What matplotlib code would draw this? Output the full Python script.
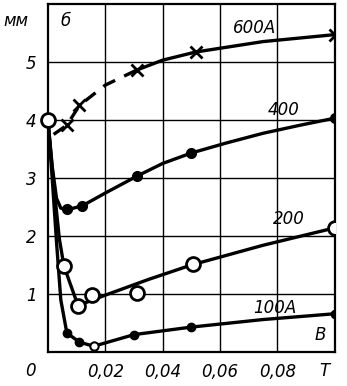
import matplotlib
matplotlib.use("Agg")
import matplotlib.pyplot as plt

plt.rcParams['font.family'] = ['Liberation Sans Narrow', 'DejaVu Sans']
plt.rcParams['font.style'] = 'italic'

# 600 A (crosses)
t600_line = [0.011, 0.02, 0.031, 0.04, 0.0515, 0.075, 0.1]
h600_line = [4.25, 4.6, 4.86, 5.03, 5.17, 5.35, 5.47]
t600 = [0.0066, 0.011, 0.031, 0.0515, 0.1]
h600 = [3.91, 4.25, 4.86, 5.17, 5.47]
# 400 A (filled dots)
t400_line = [0.0, 0.0015, 0.003, 0.0045, 0.0066, 0.012, 0.02, 0.031, 0.04, 0.05,
             0.062, 0.075, 0.088, 0.1]
h400_line = [4.0, 3.2, 2.65, 2.48, 2.45, 2.52, 2.74, 3.03, 3.25, 3.43,
             3.6, 3.77, 3.91, 4.03]
t400 = [0.0066, 0.012, 0.031, 0.05, 0.1]
h400 = [2.47, 2.52, 3.03, 3.43, 4.03]
# 200 A (open circles)
t200_line = [0.0, 0.002, 0.004, 0.0056, 0.0105, 0.02, 0.035, 0.05, 0.075, 0.1]
h200_line = [4.0, 2.9, 1.95, 1.48, 0.8, 0.98, 1.25, 1.5, 1.84, 2.14]
t200 = [0.0056, 0.0105, 0.0153, 0.031, 0.0505, 0.1]
h200 = [1.48, 0.79, 0.98, 1.02, 1.52, 2.14]
# 100 A (small dots)
t100_line = [0.0, 0.0015, 0.003, 0.0045, 0.0066, 0.011, 0.016, 0.03, 0.05, 0.075, 0.1]
h100_line = [4.0, 3.0, 1.9, 0.9, 0.33, 0.17, 0.1, 0.3, 0.43, 0.56, 0.66]
t100 = [0.0066, 0.011, 0.03, 0.05, 0.1]
h100 = [0.33, 0.17, 0.3, 0.43, 0.66]

xticks = [0.02, 0.04, 0.06, 0.08]
xlabels = ['0,02', '0,04', '0,06', '0,08']
yticks = [1, 2, 3, 4, 5]

fig = plt.figure(figsize=(3.47, 3.86), dpi=100)
ax = fig.add_axes([0.138, 0.088, 0.827, 0.902])
ax.set_xlim(0, 0.1)
ax.set_ylim(0, 6)

for x in xticks:
    ax.axvline(x, color='black', lw=1.0, zorder=1)
for y in yticks:
    ax.axhline(y, color='black', lw=1.0, zorder=1)
for s in ax.spines.values():
    s.set_linewidth(1.6)

lw = 2.4
# dashed start of the 600 A curve, solid afterwards
ax.plot([0.002, t600[0], t600[1], t600_line[1], t600_line[2]],
        [3.75, h600[0], h600[1], h600_line[1], h600_line[2]],
        color='black', lw=lw, dashes=(4, 3), zorder=3)
ax.plot(t600_line[2:], h600_line[2:], color='black', lw=lw, zorder=3)
ax.plot(t600, h600, ls='none', marker='x', ms=8, mew=2, color='black', zorder=4)

ax.plot(t400_line, h400_line, color='black', lw=lw, zorder=3)
ax.plot(t400, h400, ls='none', marker='o', ms=7, color='black', zorder=4)

ax.plot(t200_line, h200_line, color='black', lw=lw, zorder=3)
ax.plot(t200, h200, ls='none', marker='o', ms=10, mfc='white', mec='black', mew=2, zorder=4)

ax.plot(t100_line, h100_line, color='black', lw=lw, zorder=3)
ax.plot(t100, h100, ls='none', marker='o', ms=6, color='black', zorder=4)
ax.plot([0.016], [0.1], ls='none', marker='o', ms=6, mfc='white', mec='black', mew=1.5, zorder=4)

ax.plot([0.0], [4.0], ls='none', marker='o', ms=10, mfc='white', mec='black', mew=2,
        zorder=5, clip_on=False)

fs = 12
ax.text(0.072, 5.58, '600A', fontsize=fs, ha='center', va='center')
ax.text(0.082, 4.17, '400', fontsize=fs, ha='center', va='center')
ax.text(0.084, 2.3, '200', fontsize=fs, ha='center', va='center')
ax.text(0.079, 0.76, '100A', fontsize=fs, ha='center', va='center')
ax.text(0.095, 0.29, 'В', fontsize=fs, ha='center', va='center')
ax.text(0.006, 5.7, 'б', fontsize=fs, ha='center', va='center')
ax.text(-0.011, 5.7, 'мм', fontsize=fs, ha='center', va='center', clip_on=False)
ax.text(-0.006, -0.32, '0', fontsize=fs, ha='center', va='center', clip_on=False)
ax.text(0.0965, -0.32, 'T', fontsize=fs, ha='center', va='center', clip_on=False)

ax.set_xticks(xticks)
ax.set_xticklabels(xlabels, fontsize=fs)
ax.set_yticks(yticks)
ax.set_yticklabels([str(v) for v in yticks], fontsize=fs)
ax.tick_params(length=0, pad=8)

fig.savefig('out.png', dpi=100)
